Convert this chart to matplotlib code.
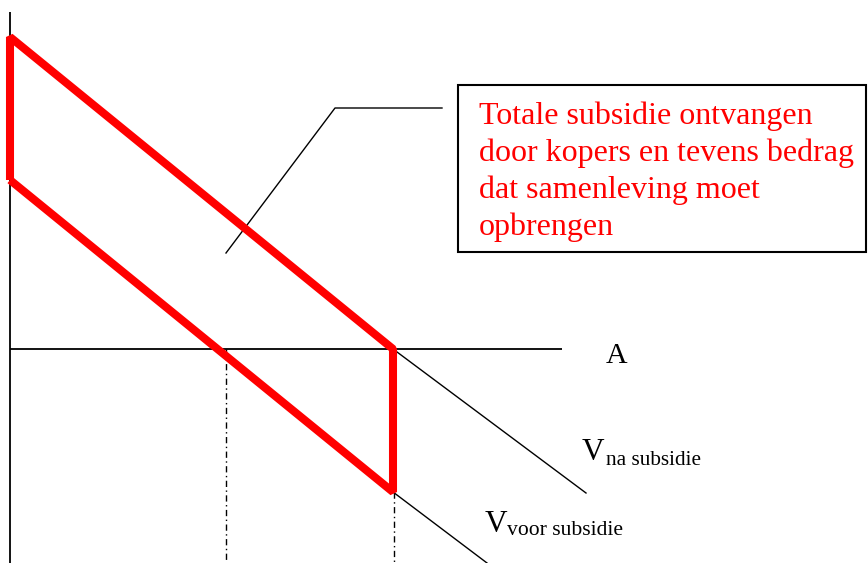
import matplotlib
matplotlib.use("Agg")
import matplotlib.pyplot as plt
from matplotlib.patches import Rectangle

# ---- data (quantity Q, price P; origin at crossing of axes) ----
axis_q_max = 552
axis_p_min, axis_p_max = -214, 337

# red parallelogram (subsidy area)
subsidy_q = [0, 0, 383, 383, 0]
subsidy_p = [169, 312, 0, -143, 169]

# demand curves continuations
v_na_q = [383, 576]
v_na_p = [0, -144]
v_voor_q = [383, 477]
v_voor_p = [-143, -214]

# dash-dot guide lines
guide1_q = [216, 216]
guide1_p = [0, -214]
guide2_q = [384, 384]
guide2_p = [-143, -214]

# leader line to the text box
leader_q = [216, 325, 432]
leader_p = [96, 241, 241]

# text box
box_q0, box_q1 = 448, 856
box_p0, box_p1 = 97, 264
box_lines = ["Totale subsidie ontvangen",
             "door kopers en tevens bedrag",
             "dat samenleving moet",
             "opbrengen"]
box_baselines = [225, 188, 151, 114]

serif = "Liberation Serif"

fig = plt.figure(figsize=(8.68, 5.63), dpi=100)
ax = fig.add_axes([0, 0, 1, 1])
ax.set_xlim(-10, 858)
ax.set_ylim(-214, 349)
ax.axis("off")

# axes
ax.plot([0, 0], [axis_p_min, axis_p_max], color="black", lw=1.3, solid_capstyle="butt")
ax.plot([0, axis_q_max], [0, 0], color="black", lw=1.3, solid_capstyle="butt")

# demand continuations
ax.plot(v_na_q, v_na_p, color="black", lw=1.0)
ax.plot(v_voor_q, v_voor_p, color="black", lw=1.0)

# guides
ax.plot(guide1_q, guide1_p, color="black", lw=1.0, linestyle=(0, (4.5, 2.5, 1, 2.5)))
ax.plot(guide2_q, guide2_p, color="black", lw=1.0, linestyle=(0, (4.5, 2.5, 1, 2.5)))

# leader
ax.plot(leader_q, leader_p, color="black", lw=1.0)

# red subsidy area outline
ax.plot(subsidy_q, subsidy_p, color="#ff0000", lw=5.8,
        solid_joinstyle="bevel", solid_capstyle="butt", zorder=5)

# text box
ax.add_patch(Rectangle((box_q0, box_p0), box_q1 - box_q0, box_p1 - box_p0,
                       fill=False, edgecolor="black", lw=1.5, zorder=6))
for line, yb in zip(box_lines, box_baselines):
    ax.text(469, yb, line, color="#ff0000", fontsize=23, family=serif,
            ha="left", va="baseline", zorder=7)

# labels
ax.text(596, -14, "A", fontsize=21.5, family=serif, ha="left", va="baseline")
ax.text(572, -111, "V", fontsize=22.5, family=serif, ha="left", va="baseline")
ax.text(596, -116, "na subsidie", fontsize=15.3, family=serif, ha="left", va="baseline")
ax.text(475, -183, "V", fontsize=22.5, family=serif, ha="left", va="baseline")
ax.text(497, -186, "voor subsidie", fontsize=15.6, family=serif, ha="left", va="baseline")

fig.savefig("out.png", dpi=100, facecolor="white")
